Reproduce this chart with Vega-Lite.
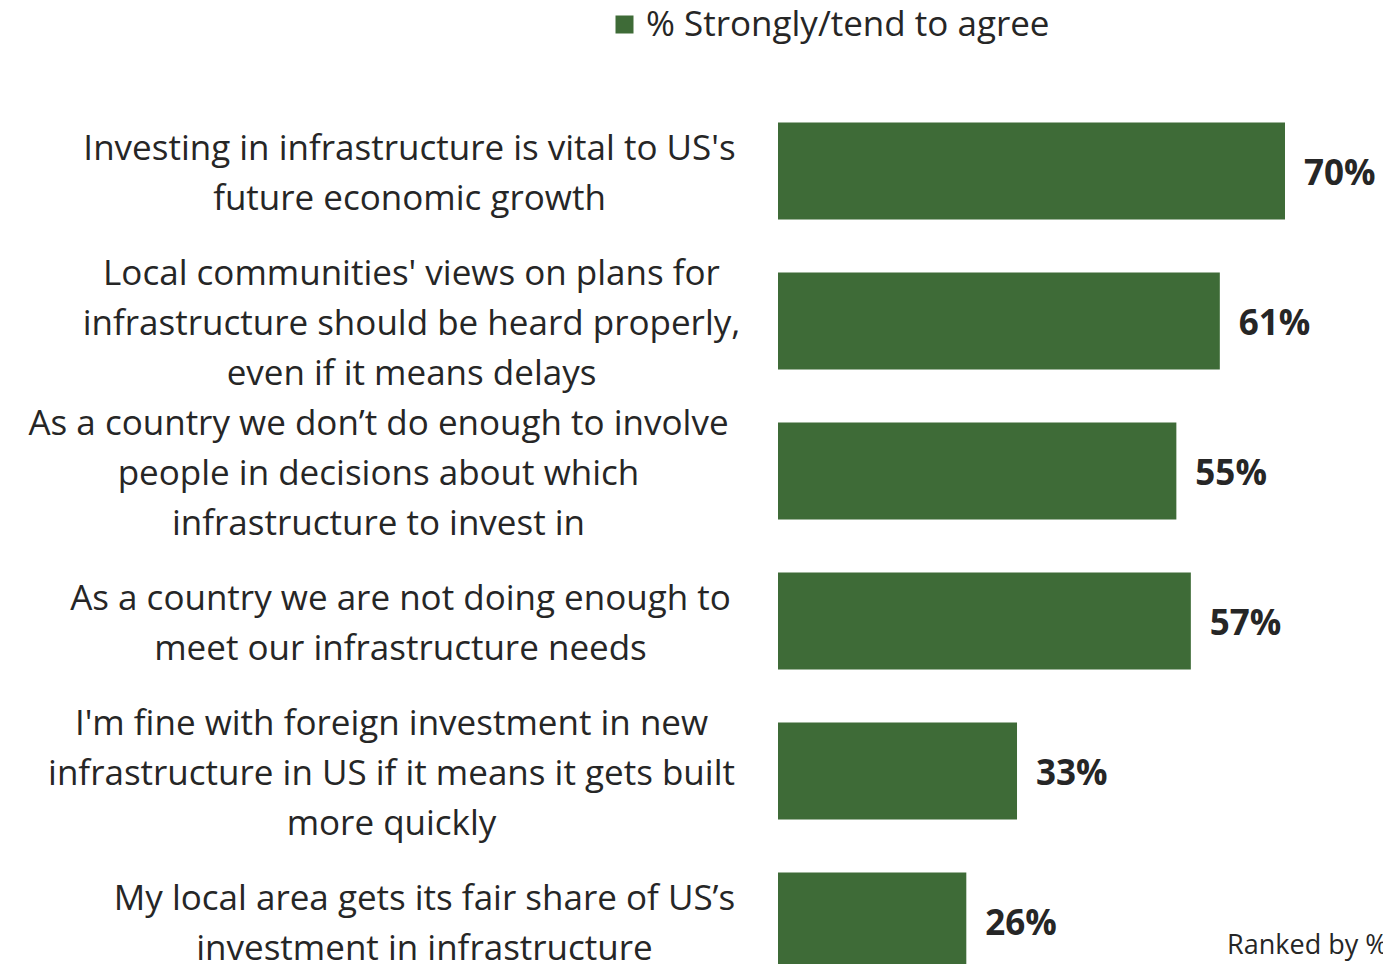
{
  "$schema": "https://vega.github.io/schema/vega-lite/v6.json",
  "autosize": "none",
  "width": 605,
  "height": 900,
  "padding": {"left": 778, "top": 96, "right": 0, "bottom": 0},
  "background": "white",
  "config": {
    "view": {"stroke": null},
    "font": "Open Sans",
    "text": {"font": "Open Sans"}
  },
  "data": {
    "values": [
      {"statement": "Investing in infrastructure is vital to US's|future economic growth", "agree": 70, "label": "70%"},
      {"statement": "Local communities' views on plans for|infrastructure should be heard properly,|even if it means delays", "agree": 61, "label": "61%"},
      {"statement": "As a country we don’t do enough to involve|people in decisions about which|infrastructure to invest in", "agree": 55, "label": "55%"},
      {"statement": "As a country we are not doing enough to|meet our infrastructure needs", "agree": 57, "label": "57%"},
      {"statement": "I'm fine with foreign investment in new|infrastructure in US if it means it gets built|more quickly", "agree": 33, "label": "33%"},
      {"statement": "My local area gets its fair share of US’s|investment in infrastructure", "agree": 26, "label": "26%"}
    ]
  },
  "encoding": {
    "y": {
      "field": "statement",
      "type": "nominal",
      "sort": null,
      "scale": {"paddingInner": 0.353, "paddingOuter": 0.1765},
      "axis": {
        "title": null,
        "domain": false,
        "ticks": false,
        "labelExpr": "split(datum.label, '|')",
        "labelAlign": "center",
        "labelBaseline": "middle",
        "labelFontSize": 35,
        "labelLineHeight": 50,
        "labelColor": "#262626",
        "labelFont": "Open Sans",
        "labelLimit": 0,
        "labelPadding": {"expr": "indexof(datum.label, 'Investing') == 0 ? 369 : indexof(datum.label, 'Local') == 0 ? 367 : indexof(datum.label, 'don’t') > 0 ? 400 : indexof(datum.label, 'are not') > 0 ? 378 : indexof(datum.label, 'fine') > 0 ? 387 : 354"},
        "labelOffset": {"expr": "length(split(datum.label, '|')) == 3 ? -47 : -22"}
      }
    },
    "x": {
      "field": "agree",
      "type": "quantitative",
      "scale": {"domain": [0, 83.53]},
      "axis": null
    }
  },
  "layer": [
    {
      "mark": {"type": "bar", "color": "#3e6b37"},
      "encoding": {
        "color": {
          "datum": "% Strongly/tend to agree",
          "type": "nominal",
          "scale": {"range": ["#3e6b37"]},
          "legend": {
            "title": null,
            "orient": "none",
            "legendX": -171,
            "legendY": -89,
            "symbolType": "square",
            "symbolSize": 324,
            "symbolStrokeWidth": 0,
            "labelFontSize": 35,
            "labelColor": "#262626",
            "labelFont": "Open Sans",
            "labelOffset": 4,
            "labelLimit": 0
          }
        }
      }
    },
    {
      "mark": {"type": "text", "align": "left", "baseline": "middle", "dx": 19, "dy": 3, "fontSize": 35, "fontWeight": "bold", "color": "#262626"},
      "encoding": {"text": {"field": "label"}}
    },
    {
      "data": {"values": [{"note": "Ranked by %", "agree": 62, "statement": "My local area gets its fair share of US’s|investment in infrastructure"}]},
      "mark": {"type": "text", "align": "left", "baseline": "alphabetic", "dy": 33, "fontSize": 27, "color": "#262626"},
      "encoding": {"text": {"field": "note"}}
    }
  ]
}
